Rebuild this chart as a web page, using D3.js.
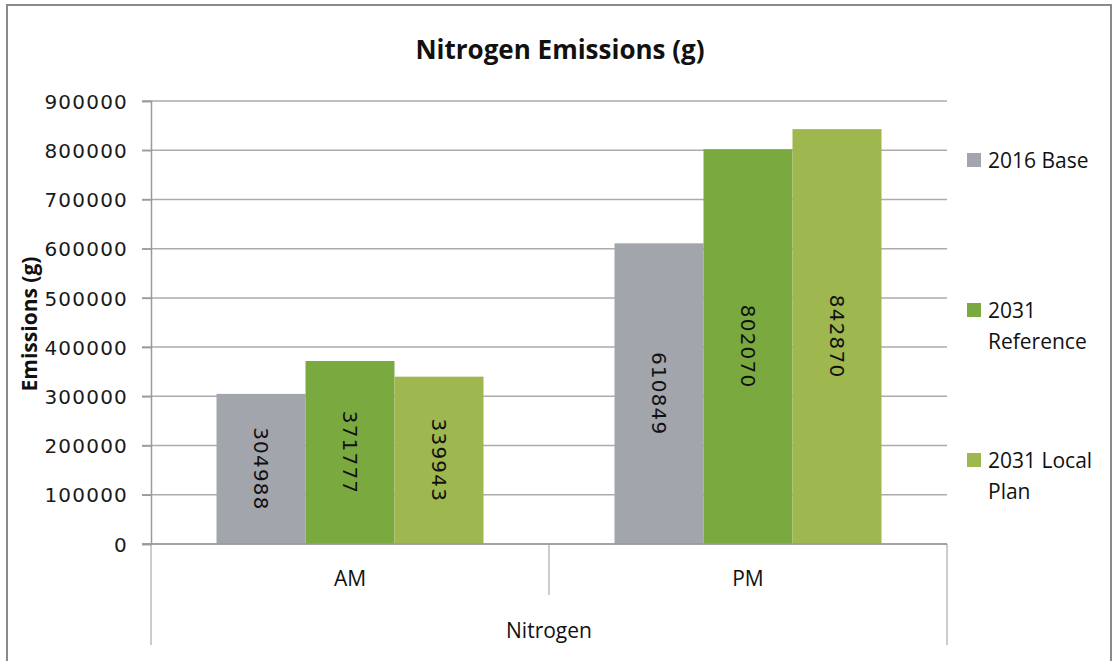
<!DOCTYPE html>
<html>
<head>
<meta charset="utf-8">
<script src="https://cdn.jsdelivr.net/npm/d3@7"></script>
<style>
  html, body { margin: 0; padding: 0; background: #fff; }
  svg { display: block; }
</style>
</head>
<body>
<svg id="chart" width="1113" height="661"></svg>
<script>
// ---- data ----
const categories = ["AM", "PM"];
const groupLabel = "Nitrogen";
const seriesNames = ["2016 Base", "2031 Reference", "2031 Local Plan"];
const legendLines = [["2016 Base"], ["2031", "Reference"], ["2031 Local", "Plan"]];
const base2016 = [304988, 610849];
const ref2031 = [371777, 802070];
const local2031 = [339943, 842870];
const yTicks = [0, 100000, 200000, 300000, 400000, 500000, 600000, 700000, 800000, 900000];
const title = "Nitrogen Emissions (g)";
const yTitle = "Emissions (g)";

const seriesValues = [base2016, ref2031, local2031];
const colors = ["#A3A5AD", "#7AAA3F", "#9FB74F"];

const svg = d3.select("#chart");
const numFont = "'DejaVu Sans', sans-serif";
const txtFont = "'Open Sans', sans-serif";

// frame
svg.append("rect").attr("x", 7).attr("y", 5).attr("width", 1104).attr("height", 700)
  .attr("fill", "#fff").attr("stroke", "#8a8a8a").attr("stroke-width", 2);

const pLeft = 151, pRight = 947, pTop = 101, pBottom = 544;

const y = d3.scaleLinear().domain([0, 900000]).range([pBottom, pTop]);
const x0 = d3.scaleBand().domain(categories).range([pLeft, pRight]).paddingInner(0).paddingOuter(0);
const x1 = d3.scaleBand().domain(seriesNames).range([0, x0.bandwidth()]).paddingInner(0).paddingOuter(0.736);

// gridlines
svg.append("g").selectAll("line").data(yTicks).join("line")
  .attr("x1", pLeft - 9).attr("x2", pRight)
  .attr("y1", d => y(d)).attr("y2", d => y(d))
  .attr("stroke", "#ababab").attr("stroke-width", 1.5);

// y axis
const yAxis = svg.append("g").attr("transform", `translate(${pLeft},0)`)
  .call(d3.axisLeft(y).tickValues(yTicks).tickSize(9).tickFormat(d3.format("d")));
yAxis.select(".domain").attr("stroke", "#9a9a9a").attr("stroke-width", 1.5);
yAxis.selectAll(".tick line").attr("stroke", "#9a9a9a").attr("stroke-width", 1.5);
yAxis.selectAll(".tick text")
  .attr("x", -23).attr("dy", "0.36em")
  .attr("font-family", numFont).attr("font-size", 20)
  .attr("letter-spacing", "1.2px").attr("fill", "#1a1a1a");

// bars
const groups = svg.append("g").selectAll("g").data(categories).join("g")
  .attr("transform", d => `translate(${x0(d)},0)`);
groups.each(function(cat, ci) {
  const g = d3.select(this);
  const recs = seriesNames.map((s, si) => ({ s, si, v: seriesValues[si][ci] }));
  g.selectAll("rect").data(recs).join("rect")
    .attr("x", d => x1(d.s)).attr("width", x1.bandwidth())
    .attr("y", d => y(d.v)).attr("height", d => y(0) - y(d.v))
    .attr("fill", d => colors[d.si]);
  g.selectAll("text").data(recs).join("text")
    .attr("transform", d => `translate(${x1(d.s) + x1.bandwidth() / 2},${(y(d.v) + y(0)) / 2}) rotate(90)`)
    .attr("text-anchor", "middle").attr("dy", "0.36em")
    .attr("font-family", numFont).attr("font-size", 20)
    .attr("letter-spacing", "1.2px").attr("fill", "#111")
    .text(d => d.v);
});

// x axis baseline
svg.append("line").attr("x1", pLeft - 9).attr("x2", pRight).attr("y1", pBottom).attr("y2", pBottom)
  .attr("stroke", "#9a9a9a").attr("stroke-width", 1.5);

// category dividers
const dividers = [
  { x: pLeft, y2: 645 },
  { x: x0("PM"), y2: 595 },
  { x: pRight, y2: 645 }
];
svg.append("g").selectAll("line").data(dividers).join("line")
  .attr("x1", d => d.x).attr("x2", d => d.x).attr("y1", pBottom).attr("y2", d => d.y2)
  .attr("stroke", "#9a9a9a").attr("stroke-width", 1);

// category labels
svg.append("g").selectAll("text").data(categories).join("text")
  .attr("x", d => x0(d) + x0.bandwidth() / 2).attr("y", 586)
  .attr("text-anchor", "middle").attr("font-family", txtFont).attr("font-size", 21)
  .attr("fill", "#111").text(d => d);
svg.append("text").attr("x", (pLeft + pRight) / 2).attr("y", 638)
  .attr("text-anchor", "middle").attr("font-family", txtFont).attr("font-size", 21)
  .attr("fill", "#111").text(groupLabel);

// title
svg.append("text").attr("x", 560).attr("y", 59).attr("text-anchor", "middle")
  .attr("font-family", txtFont).attr("font-weight", "bold").attr("font-size", 26)
  .attr("fill", "#111").text(title);

// y title
svg.append("text").attr("transform", "translate(37,324) rotate(-90)")
  .attr("text-anchor", "middle").attr("font-family", txtFont).attr("font-weight", "bold")
  .attr("font-size", 21).attr("fill", "#111").text(yTitle);

// legend
const leg = svg.append("g").selectAll("g").data(seriesNames).join("g")
  .attr("transform", (d, i) => `translate(967,${160 + i * 150})`);
leg.append("rect").attr("x", 0).attr("y", -7).attr("width", 14).attr("height", 14)
  .attr("fill", (d, i) => colors[i]);
leg.each(function(d, i) {
  d3.select(this).selectAll("text").data(legendLines[i]).join("text")
    .attr("x", 21).attr("y", (t, j) => 8 + j * 31)
    .attr("font-family", txtFont).attr("font-size", 21).attr("fill", "#111")
    .text(t => t);
});
</script>
</body>
</html>
